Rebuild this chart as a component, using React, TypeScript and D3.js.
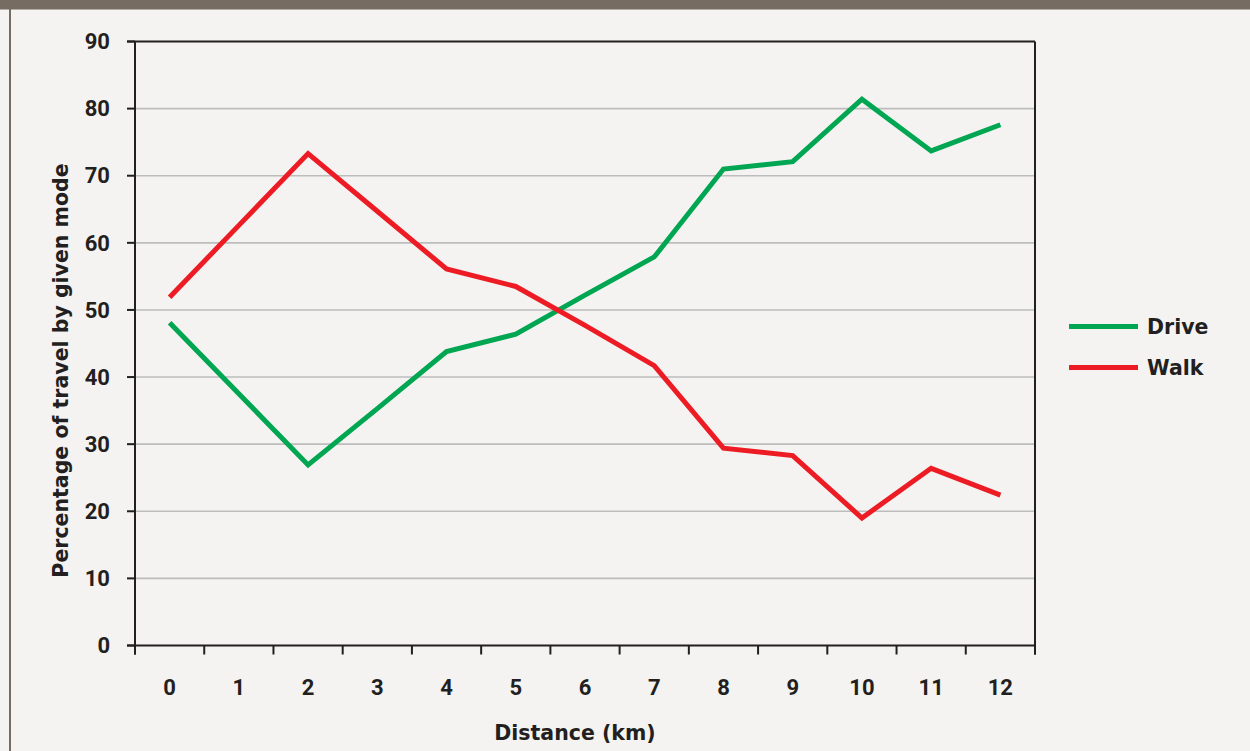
import * as d3 from 'd3'

const distances = ['0', '1', '2', '3', '4', '5', '6', '7', '8', '9', '10', '11', '12']
const drive = [48.1, 37.5, 26.9, 35.3, 43.8, 46.4, 52.2, 57.9, 71.0, 72.1, 81.4, 73.7, 77.6]
const walk = [51.9, 62.6, 73.3, 64.7, 56.1, 53.5, 47.7, 41.7, 29.4, 28.3, 19.0, 26.4, 22.4]
const yTicks = [0, 10, 20, 30, 40, 50, 60, 70, 80, 90]

const series = [
  { name: 'Drive', values: drive, color: '#00a651' },
  { name: 'Walk', values: walk, color: '#ed1c24' },
]

const W = 1250
const H = 751
const margin = { top: 41.5, right: 215, bottom: 105.5, left: 135 }
const ink = '#231f20'
const font = 'Roboto, "Open Sans", sans-serif'
const wide = '"DejaVu Sans", Roboto, sans-serif'

export default function App() {
  const x = d3
    .scaleBand()
    .domain(distances)
    .range([margin.left, W - margin.right])
    .padding(0)

  const y = d3
    .scaleLinear()
    .domain([0, 90])
    .range([H - margin.bottom, margin.top])

  const line = d3
    .line<number>()
    .x((_, i) => x(distances[i])! + x.bandwidth() / 2)
    .y((d) => y(d))

  const x0 = margin.left
  const x1 = W - margin.right
  const y0 = y(0)
  const y1 = y(90)
  const boundaries = distances.map((d) => x(d)!).concat([x1])

  return (
    <svg
      width={W}
      height={H}
      style={{ position: 'fixed', left: 0, top: 0, display: 'block' }}
    >
      <rect width={W} height={H} fill="#f4f3f1" />
      <rect width={W} height={9.5} fill="#776c62" />
      <rect x={9} y={0} width={2} height={H} fill="#776c62" />

      {yTicks.slice(1, -1).map((t) => (
        <line key={t} x1={x0} x2={x1} y1={y(t)} y2={y(t)} stroke="#bdbdbd" strokeWidth={1.6} />
      ))}

      {/* frame */}
      <line x1={x0 - 8} x2={x1} y1={y1} y2={y1} stroke={ink} strokeWidth={2} />
      <line x1={x1} x2={x1} y1={y1} y2={y0 + 9} stroke={ink} strokeWidth={2} />
      <line x1={x0} x2={x0} y1={y1} y2={y0 + 9} stroke={ink} strokeWidth={2} />
      <line x1={x0 - 8} x2={x1} y1={y0} y2={y0} stroke={ink} strokeWidth={2} />

      {yTicks.map((t) => (
        <g key={t}>
          <line x1={x0 - 8} x2={x0} y1={y(t)} y2={y(t)} stroke={ink} strokeWidth={2} />
          <text
            x={110}
            y={y(t)}
            dy="0.35em"
            textAnchor="end"
            fontFamily={font}
            fontWeight={700}
            fontSize={22}
            fill={ink}
          >
            {t}
          </text>
        </g>
      ))}

      {boundaries.map((b, i) => (
        <line key={i} x1={b} x2={b} y1={y0} y2={y0 + 9} stroke={ink} strokeWidth={2} />
      ))}

      {distances.map((d) => (
        <text
          key={d}
          x={x(d)! + x.bandwidth() / 2}
          y={687}
          dy="0.35em"
          textAnchor="middle"
          fontFamily={font}
          fontWeight={700}
          fontSize={22}
          fill={ink}
        >
          {d}
        </text>
      ))}

      {series.map((s) => (
        <path
          key={s.name}
          d={line(s.values)!}
          fill="none"
          stroke={s.color}
          strokeWidth={5}
          strokeLinejoin="miter"
        />
      ))}

      <text
        x={575}
        y={733}
        dy="0.35em"
        textAnchor="middle"
        fontFamily={wide}
        fontWeight={700}
        fontSize={20.5}
        fill={ink}
      >
        Distance (km)
      </text>
      <text
        transform={`translate(61,${(y0 + y1) / 2 + 27}) rotate(-90)`}
        dy="0.35em"
        textAnchor="middle"
        fontFamily={wide}
        fontWeight={700}
        fontSize={20.5}
        fill={ink}
      >
        Percentage of travel by given mode
      </text>

      {series.map((s, i) => (
        <g key={s.name} transform={`translate(1069,${326.5 + i * 41})`}>
          <line x1={0} x2={69} y1={0} y2={0} stroke={s.color} strokeWidth={5} />
          <text
            x={78}
            dy="0.35em"
            fontFamily={wide}
            fontWeight={700}
            fontSize={20.5}
            fill={ink}
          >
            {s.name}
          </text>
        </g>
      ))}
    </svg>
  )
}
